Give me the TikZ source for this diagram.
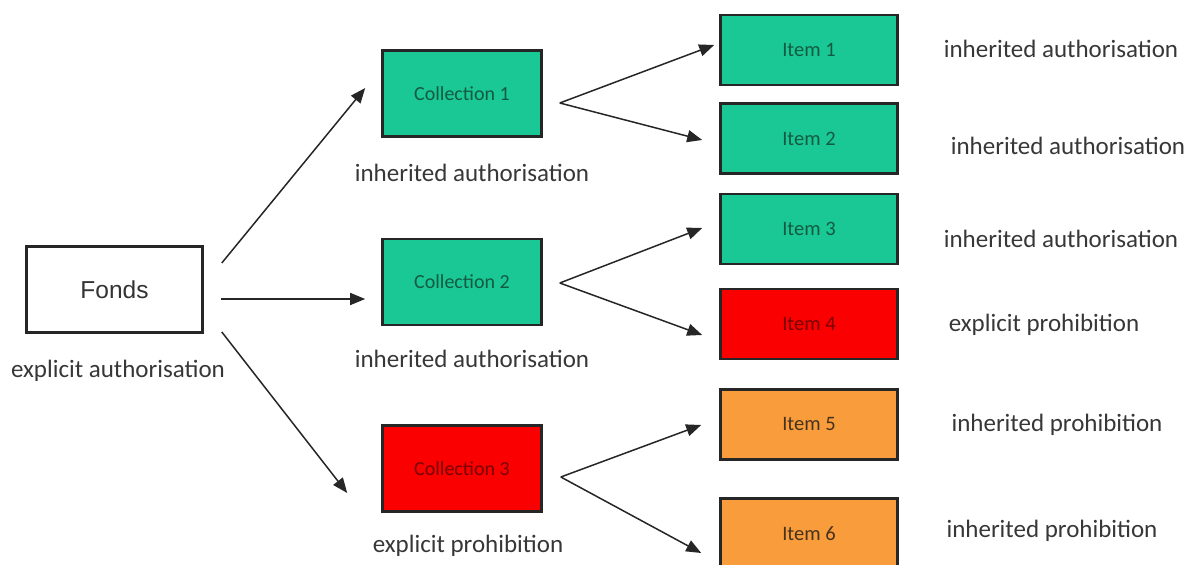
\documentclass[tikz,border=0pt]{standalone}
\usepackage{fontspec}
\setmainfont{Carlito}
\newfontfamily\arialfont{Liberation Sans}
\usetikzlibrary{arrows.meta,calc}
\definecolor{boxgreen}{RGB}{26,200,150}
\definecolor{boxred}{RGB}{250,0,0}
\definecolor{boxorange}{RGB}{249,156,60}
\definecolor{txtgreen}{RGB}{20,90,65}
\definecolor{txtred}{RGB}{120,0,0}
\definecolor{txtorange}{RGB}{70,50,30}
\definecolor{labelgray}{RGB}{55,55,55}
\begin{document}
\begin{tikzpicture}[x=1pt,y=1pt,
  boxbase/.style={draw=black!85, line width=2.6pt, inner sep=0pt},
  collbox/.style={boxbase, minimum width=159pt, minimum height=86pt, font=\fontsize{20}{22}\selectfont},
  itembox/.style={boxbase, minimum width=177pt, minimum height=70pt, font=\fontsize{20.5}{22}\selectfont},
  greenbox/.style={fill=boxgreen, text=txtgreen},
  redbox/.style={fill=boxred, text=txtred},
  orangebox/.style={fill=boxorange, text=txtorange},
  lab/.style={anchor=base, text=labelgray, font=\fontsize{25}{28}\selectfont, inner sep=0pt},
  arr/.style={draw=black!85, line width=1.5pt, -{Triangle[length=15pt,width=12pt]}}
]
\useasboundingbox (0,0) rectangle (1195,565);

% Fonds
\node[boxbase, fill=white, minimum width=176pt, minimum height=86pt, text=black!80,
      font=\arialfont\fontsize{24.5}{27}\selectfont] (fonds) at (114.5,275.5) {Fonds};
\node[lab] (lfonds) at (118,187) {explicit authorisation};

% Collections
\node[collbox, greenbox] (c1) at (462,471.5) {Collection 1};
\node[collbox, greenbox] (c2) at (462,283) {Collection 2};
\node[collbox, redbox]   (c3) at (462,96.5) {Collection 3};
\node[lab] (lc1) at (472,383) {inherited authorisation};
\node[lab] (lc2) at (472,197) {inherited authorisation};
\node[lab] (lc3) at (468,12) {explicit prohibition};

% Items
\node[itembox, greenbox]  (i1) at (809,515)   {Item 1};
\node[itembox, greenbox]  (i2) at (809,426.5) {Item 2};
\node[itembox, greenbox]  (i3) at (809,336)   {Item 3};
\node[itembox, redbox]    (i4) at (809,241)   {Item 4};
\node[itembox, orangebox] (i5) at (809,140.5) {Item 5};
\node[itembox, orangebox] (i6) at (809,31.5)  {Item 6};

\node[lab] (li1) at (1061,507) {inherited authorisation};
\node[lab] (li2) at (1068,410) {inherited authorisation};
\node[lab] (li3) at (1061,317) {inherited authorisation};
\node[lab] (li4) at (1044,233) {explicit prohibition};
\node[lab] (li5) at (1057,133) {inherited prohibition};
\node[lab] (li6) at (1052,27) {inherited prohibition};

% Fonds -> collections
\draw[arr] ($(fonds.east)+(18,26.5)$) -- ($(c1.west)+(-16,5.5)$);
\draw[arr] ($(fonds.east)+(17,-9.5)$) -- ($(c2.west)+(-16,-17)$);
\draw[arr] ($(fonds.east)+(18,-42.5)$) -- ($(c3.west)+(-34,-24.5)$);

% Collections -> items
\draw[arr] ($(c1.east)+(17,-9.5)$) -- ($(i1.west)+(-5,5)$);
\draw[arr] ($(c1.east)+(17,-9.5)$) -- ($(i2.west)+(-17,-1.5)$);
\draw[arr] ($(c2.east)+(17,-1)$) -- ($(i3.west)+(-17,1)$);
\draw[arr] ($(c2.east)+(17,-1)$) -- ($(i4.west)+(-17,-11)$);
\draw[arr] ($(c3.east)+(18,-8.5)$) -- ($(i5.west)+(-18,-0.5)$);
\draw[arr] ($(c3.east)+(18,-8.5)$) -- ($(i6.west)+(-18,-19.5)$);
\end{tikzpicture}
\end{document}
